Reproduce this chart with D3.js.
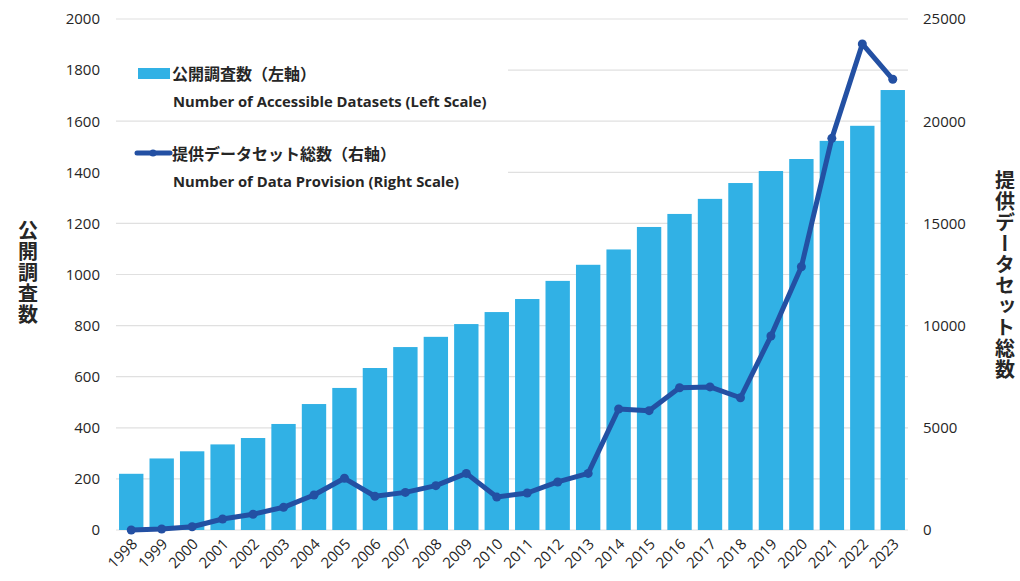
<!DOCTYPE html>
<html><head><meta charset="utf-8">
<script src="https://cdn.jsdelivr.net/npm/d3@7"></script>
<style>
body{margin:0;background:#fff;}
svg{display:block;font-family:"Open Sans","Noto Sans","Noto Sans CJK JP",sans-serif;}
</style></head>
<body><svg id="c" width="1020" height="581"></svg>
<script>
const years = ["1998","1999","2000","2001","2002","2003","2004","2005","2006","2007","2008","2009","2010","2011","2012","2013","2014","2015","2016","2017","2018","2019","2020","2021","2022","2023"];
const datasets = [220,280,308,335,360,415,493,556,634,716,756,806,853,904,975,1038,1098,1186,1237,1296,1358,1405,1452,1523,1582,1722];
const provision = [0,50,160,540,770,1110,1710,2530,1650,1840,2170,2770,1610,1810,2350,2770,5920,5840,6960,7000,6470,9490,12880,19160,23780,22050];
const leftTicks = [0,200,400,600,800,1000,1200,1400,1600,1800,2000];
const rightTicks = [0,5000,10000,15000,20000,25000];
const barLabelJa = "公開調査数（左軸）";
const barLabelEn = "Number of Accessible Datasets (Left Scale)";
const lineLabelJa = "提供データセット総数（右軸）";
const lineLabelEn = "Number of Data Provision (Right Scale)";
const leftTitle = "公開調査数";
const rightTitle = "提供データセット総数";

const svg = d3.select("#c");
const L = 116, R = 908, T = 19, B = 530;
const x = d3.scaleBand().domain(years).range([L, R]).paddingInner(0.2).paddingOuter(0.1);
const yL = d3.scaleLinear().domain([0, 2000]).range([B, T]);
const yR = d3.scaleLinear().domain([0, 25000]).range([B, T]);
const barColor = "#31b1e5", lineColor = "#2350a3", textColor = "#262626";

// gridlines
svg.append("g").selectAll("line").data(leftTicks).join("line")
  .attr("x1", L).attr("x2", R).attr("y1", d => yL(d)).attr("y2", d => yL(d))
  .attr("stroke", "#e0e0e0").attr("stroke-width", 1.2);

// axis labels
const ga = d3.axisLeft(yL).tickValues(leftTicks).tickSize(0).tickPadding(16).tickFormat(d3.format("d"));
const gL = svg.append("g").attr("transform", `translate(${L},0)`).call(ga);
gL.select(".domain").remove();
gL.selectAll("text").attr("font-size", 15).attr("fill", textColor).attr("font-family", "Open Sans, sans-serif");

const gr = d3.axisRight(yR).tickValues(rightTicks).tickSize(0).tickPadding(15).tickFormat(d3.format("d"));
const gR = svg.append("g").attr("transform", `translate(${R},0)`).call(gr);
gR.select(".domain").remove();
gR.selectAll("text").attr("font-size", 15).attr("fill", textColor).attr("font-family", "Open Sans, sans-serif");

// legend background
svg.append("rect").attr("x", 116).attr("y", 52).attr("width", 392).attr("height", 60).attr("fill", "#fff");
svg.append("rect").attr("x", 116).attr("y", 132).attr("width", 392).attr("height", 62).attr("fill", "#fff");

// bars
svg.append("g").selectAll("rect").data(years).join("rect")
  .attr("x", d => x(d)).attr("width", x.bandwidth())
  .attr("y", (d,i) => yL(datasets[i])).attr("height", (d,i) => B - yL(datasets[i]))
  .attr("fill", barColor);

// x labels
const gx = svg.append("g");
gx.selectAll("text").data(years).join("text")
  .attr("transform", d => `translate(${x(d) + x.bandwidth()/2 + 7},${545}) rotate(-45)`)
  .attr("text-anchor", "end").attr("font-size", 15).attr("fill", textColor)
  .attr("font-family", "Open Sans, sans-serif")
  .text(d => d);

// line
const line = d3.line().x((d,i) => x(years[i]) + x.bandwidth()/2).y(d => yR(d));
svg.append("path").datum(provision).attr("d", line).attr("fill", "none")
  .attr("stroke", lineColor).attr("stroke-width", 5).attr("stroke-linejoin", "round");
svg.append("g").selectAll("circle").data(provision).join("circle")
  .attr("cx", (d,i) => x(years[i]) + x.bandwidth()/2).attr("cy", d => yR(d)).attr("r", 4.5)
  .attr("fill", lineColor);

// legend
svg.append("rect").attr("x", 138).attr("y", 68).attr("width", 32).attr("height", 11).attr("fill", barColor);
svg.append("text").attr("x", 172).attr("y", 80).attr("font-size", 16).attr("font-weight", "bold")
  .attr("fill", textColor).attr("font-family", "Noto Sans CJK JP, sans-serif").text(barLabelJa);
svg.append("text").attr("x", 173).attr("y", 107).attr("font-size", 14.8).attr("font-weight", "bold")
  .attr("fill", textColor).attr("font-family", "Open Sans, sans-serif").text(barLabelEn);
svg.append("line").attr("x1", 137).attr("x2", 170).attr("y1", 153).attr("y2", 153)
  .attr("stroke", lineColor).attr("stroke-width", 5).attr("stroke-linecap", "round");
svg.append("circle").attr("cx", 153).attr("cy", 153).attr("r", 3.5).attr("fill", lineColor);
svg.append("text").attr("x", 172).attr("y", 160).attr("font-size", 16).attr("font-weight", "bold")
  .attr("fill", textColor).attr("font-family", "Noto Sans CJK JP, sans-serif").text(lineLabelJa);
svg.append("text").attr("x", 173).attr("y", 187).attr("font-size", 14.8).attr("font-weight", "bold")
  .attr("fill", textColor).attr("font-family", "Open Sans, sans-serif").text(lineLabelEn);

// axis titles (vertical)
svg.append("text").attr("x", 28).attr("y", 220)
  .attr("style", "writing-mode: vertical-rl; text-orientation: upright;")
  .attr("font-size", 20).attr("font-weight", "bold").attr("fill", textColor)
  .attr("font-family", "Noto Sans CJK JP, sans-serif").attr("letter-spacing", 1).text(leftTitle);
svg.append("text").attr("x", 1005).attr("y", 170)
  .attr("style", "writing-mode: vertical-rl; text-orientation: upright;")
  .attr("font-size", 20).attr("font-weight", "bold").attr("fill", textColor)
  .attr("font-family", "Noto Sans CJK JP, sans-serif").attr("letter-spacing", 1).text(rightTitle);
</script></body></html>
